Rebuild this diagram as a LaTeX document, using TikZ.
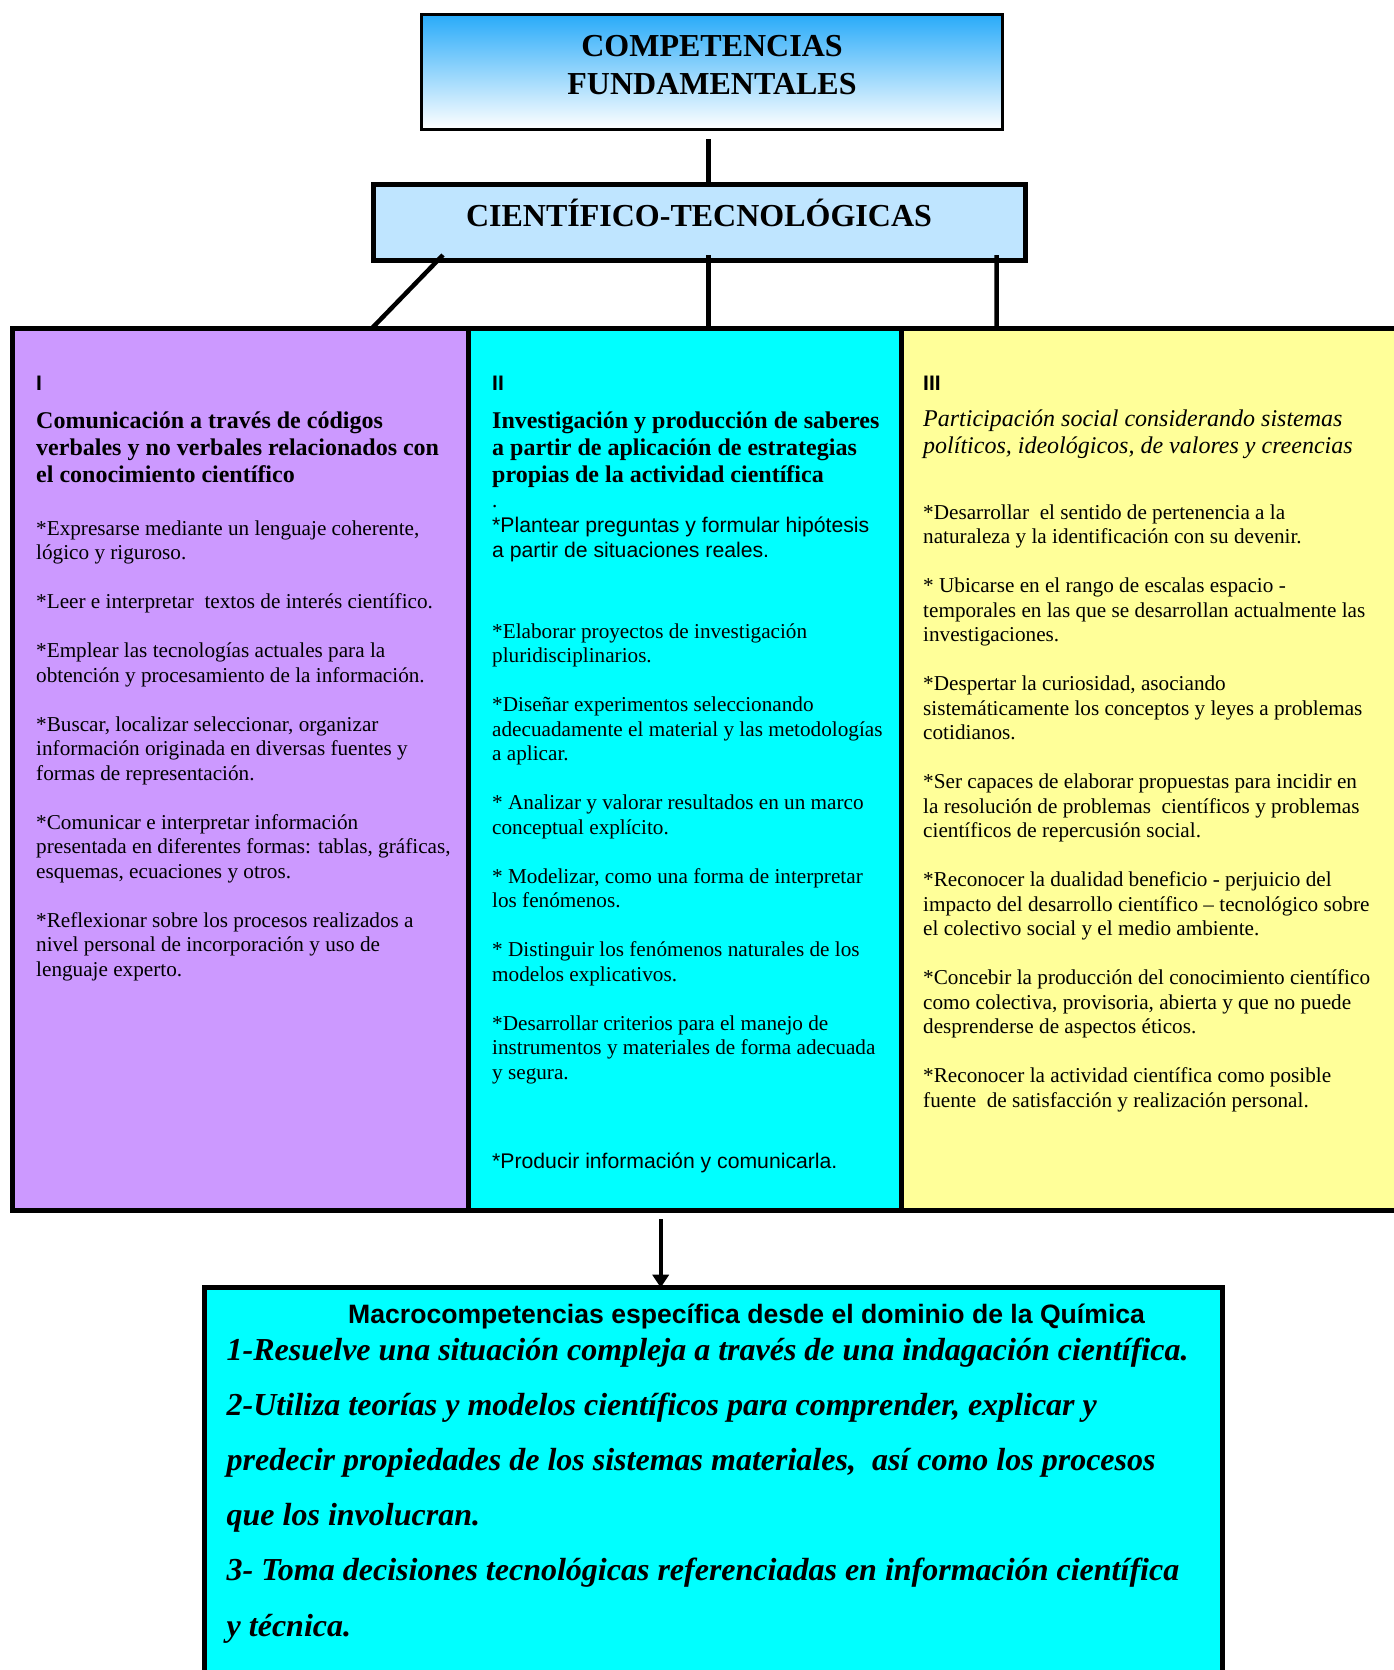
\documentclass[tikz,border=0pt]{standalone}
\usepackage{fontspec}
\setmainfont{Liberation Serif}
\setsansfont{Liberation Sans}
\usetikzlibrary{positioning, arrows.meta}

\definecolor{lila}{HTML}{CC99FF}
\definecolor{turquesa}{HTML}{00FFFF}
\definecolor{amarillo}{HTML}{FFFF99}
\definecolor{celeste}{HTML}{BFE5FF}
\definecolor{azul}{HTML}{29ABF9}

\begin{document}
\begin{tikzpicture}[x=1pt, y=-1pt, >={Triangle[length=13pt, width=16pt]},
    caja/.style={draw, line width=5pt, inner sep=0pt, outer sep=0pt, anchor=north west},
    enlace/.style={line width=4.5pt},
    texto/.style={anchor=base west, align=left, inner sep=0pt, font=\fontsize{21.2}{24.5}\selectfont},
    textosans/.style={texto, font=\sffamily\fontsize{21.2}{24.5}\selectfont},
    encabezado/.style={texto, font=\bfseries\fontsize{24}{27.3}\selectfont},
    numero/.style={texto, font=\sffamily\bfseries\fontsize{21}{24}\selectfont},
    titulo/.style={anchor=base, align=center, font=\bfseries\fontsize{32}{38}\selectfont},
    meta/.style={texto, font=\bfseries\itshape\fontsize{32}{55.2}\selectfont}]
    \useasboundingbox (0,0) rectangle (1393,1670);

    \node[caja, line width=3.5pt, top color=azul, bottom color=white, minimum width=580.6pt, minimum height=114.6pt] (sup) at (421.7,14.7) {};
    \node[caja, fill=celeste, minimum width=652.3pt, minimum height=76pt] (cient) at (373.2,184.2) {};
    \node[caja, fill=lila, minimum width=455.5pt, minimum height=882.3pt] (col1) at (12.5,328.2) {};
    \node[caja, fill=turquesa, minimum width=433pt, minimum height=882.3pt] (col2) at (468,328.2) {};
    \node[caja, fill=amarillo, minimum width=519pt, minimum height=882.3pt] (col3) at (901,328.2) {};
    \node[caja, fill=turquesa, minimum width=1018.2pt, minimum height=432.3pt] (macro) at (204.5,1287.7) {};

    \node[titulo] (supTxt) at (712,95) {COMPETENCIAS\\FUNDAMENTALES};
    \node[titulo] (cientTxt) at (699,226) {CIENTÍFICO-TECNOLÓGICAS};

    \draw[enlace] ([xshift=-3.3pt, yshift=-9.7pt]sup.south) -- ([xshift=9.35pt]cient.north);
    \draw[enlace] ([xshift=69.8pt, yshift=5.2pt]cient.south west) -- ([xshift=359.5pt]col1.north west);
    \draw[enlace] ([xshift=9.35pt, yshift=5.2pt]cient.south) -- ([xshift=24.2pt]col2.north);
    \draw[enlace] ([xshift=-28.8pt, yshift=5.2pt]cient.south east) -- ([xshift=95.7pt]col3.north west);
    \draw[->, line width=4pt] ([xshift=-23.8pt, yshift=-8.5pt]col2.south) -- ([xshift=456.2pt]macro.north west);

    \node[numero] (num1) at (36,390.7) {I};
    \node[numero] (num2) at (492,390.7) {II};
    \node[numero] (num3) at (923,390.7) {III};

    \node[encabezado] (enc1) at (36,482.7) {Comunicación a través de códigos\\verbales y no verbales relacionados con\\el conocimiento científico};
    \node[encabezado] (enc2) at (492,482.7) {Investigación y producción de saberes\\a partir de aplicación de estrategias\\propias de la actividad científica};
    \node[encabezado, font=\itshape\fontsize{24}{26.7}\selectfont] (enc3) at (923,453.3) {Participación social considerando sistemas\\políticos, ideológicos, de valores y creencias};

    \node[texto] (items1) at (36,976) {*Expresarse mediante un lenguaje coherente,\\lógico y riguroso.\\[\baselineskip]
      *Leer e interpretar\ \ textos de interés científico.\\[\baselineskip]
      *Emplear las tecnologías actuales para la\\obtención y procesamiento de la información.\\[\baselineskip]
      *Buscar, localizar seleccionar, organizar\\información originada en diversas fuentes y\\formas de representación.\\[\baselineskip]
      *Comunicar e interpretar información\\presentada en diferentes formas: tablas, gráficas,\\esquemas, ecuaciones y otros.\\[\baselineskip]
      *Reflexionar sobre los procesos realizados a\\nivel personal de incorporación y uso de\\lenguaje experto.};

    \node[texto] (punto) at (492,507.7) {.};
    \node[textosans] (plantear) at (492,557.3) {*Plantear preguntas y formular hipótesis\\a partir de situaciones reales.};
    \node[texto] (items2) at (492,1079.3) {*Elaborar proyectos de investigación\\pluridisciplinarios.\\[\baselineskip]
      *Diseñar experimentos seleccionando\\adecuadamente el material y las metodologías\\a aplicar.\\[\baselineskip]
      * Analizar y valorar resultados en un marco\\conceptual explícito.\\[\baselineskip]
      * Modelizar, como una forma de interpretar\\los fenómenos.\\[\baselineskip]
      * Distinguir los fenómenos naturales de los\\modelos explicativos.\\[\baselineskip]
      *Desarrollar criterios para el manejo de\\instrumentos y materiales de forma adecuada\\y segura.};
    \node[textosans] (producir) at (492,1168.3) {*Producir información y comunicarla.};

    \node[texto] (items3) at (923,1107.3) {*Desarrollar\ \ el sentido de pertenencia a la\\naturaleza y la identificación con su devenir.\\[\baselineskip]
      * Ubicarse en el rango de escalas espacio -\\temporales en las que se desarrollan actualmente las\\investigaciones.\\[\baselineskip]
      *Despertar la curiosidad, asociando\\sistemáticamente los conceptos y leyes a problemas\\cotidianos.\\[\baselineskip]
      *Ser capaces de elaborar propuestas para incidir en\\la resolución de problemas\ \ científicos y problemas\\científicos de repercusión social.\\[\baselineskip]
      *Reconocer la dualidad beneficio - perjuicio del\\impacto del desarrollo científico – tecnológico sobre\\el colectivo social y el medio ambiente.\\[\baselineskip]
      *Concebir la producción del conocimiento científico\\como colectiva, provisoria, abierta y que no puede\\desprenderse de aspectos éticos.\\[\baselineskip]
      *Reconocer la actividad científica como posible\\fuente\ \ de satisfacción y realización personal.};

    \node[texto, font=\sffamily\bfseries\fontsize{26.6}{30}\selectfont] (macroTit) at (348,1323.3) {Macrocompetencias específica desde el dominio de la Química};
    \node[meta] (macroTxt) at (226.5,1636) {1-Resuelve una situación compleja a través de una indagación científica.\\
      2-Utiliza teorías y modelos científicos para comprender, explicar y\\
      predecir propiedades de los sistemas materiales,\ \ así como los procesos\\
      que los involucran.\\
      3- Toma decisiones tecnológicas referenciadas en información científica\\
      y técnica.};
\end{tikzpicture}
\end{document}
